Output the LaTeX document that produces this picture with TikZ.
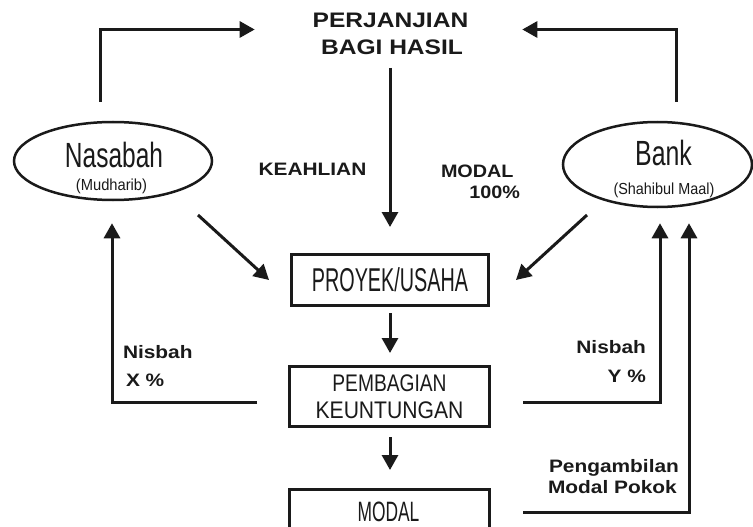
\documentclass[tikz,border=0pt]{standalone}
\usepackage{fontspec}
\setmainfont{Liberation Sans}
\usepackage{graphicx}
\usetikzlibrary{arrows.meta,shapes.geometric,calc}
\newcommand{\cnd}[3]{\fontsize{#2}{#2}\selectfont\scalebox{#1}[1]{#3}}
\newcommand{\bld}[3]{\fontsize{#2}{#2}\selectfont\bfseries\scalebox{#1}[1]{#3}}
\definecolor{ink}{HTML}{1A1A1A}
\tikzset{
  conn/.style={draw=ink, line width=3pt, -{Triangle[length=15pt,width=16pt]}},
  txt/.style={inner sep=0pt, outer sep=0pt, text=ink},
  boxnode/.style={draw=ink, line width=3pt, rectangle, inner sep=0pt, text=ink},
  ell/.style={draw=ink, ellipse, line width=2.5pt, inner sep=0pt},
}
\begin{document}
\begin{tikzpicture}[x=1pt,y=-1pt]
\clip (0,0) rectangle (753,527);
\fill[white] (0,0) rectangle (753,527);

% title
\node[txt, anchor=base] (t1) at (390.5,28) {\bld{1.17}{21}{PERJANJIAN}};
\node[txt, anchor=base] (t2) at (392,55) {\bld{1.17}{21}{BAGI HASIL}};

% ellipses
\node[ell, minimum width=198pt, minimum height=78pt] (nas) at (113,161) {};
\node[ell, minimum width=189pt, minimum height=85pt] (bank) at (657.5,164.5) {};
\node[txt, anchor=base] (nasT) at (114,167) {\cnd{0.7}{35}{Nasabah}};
\node[txt, anchor=base] (nasS) at (111.5,190.5) {\cnd{0.92}{16}{(Mudharib)}};
\node[txt, anchor=base] (bankT) at (663.5,165) {\cnd{0.71}{35}{Bank}};
\node[txt, anchor=base] (bankS) at (664,194.5) {\cnd{0.9}{16}{(Shahibul Maal)}};

% boxes
\node[boxnode, minimum width=197pt, minimum height=51pt, text height=23.6pt, text depth=0pt] (pro) at (390,280) {\cnd{0.6}{33}{PROYEK/USAHA}};
\node[boxnode, minimum width=200pt, minimum height=60pt, align=center, font=\fontsize{24}{27}\selectfont] (peb) at (389.5,396.5)
  {\scalebox{0.8}[1]{PEMBAGIAN}\\\scalebox{0.88}[1]{KEUNTUNGAN}};
\node[boxnode, minimum width=200pt, minimum height=61pt] (mod) at (389.5,520) {};
\node[txt, anchor=base] (modT) at (388.5,521) {\cnd{0.62}{28}{MODAL}};

% bold labels
\node[txt, anchor=base west] (keah) at (258.5,175) {\bld{1.16}{18}{KEAHLIAN}};
\node[txt, anchor=base west] (mod1) at (441,177) {\bld{1.1}{18}{MODAL}};
\node[txt, anchor=base east] (mod2) at (520,198) {\bld{1.1}{18}{100\%}};
\node[txt, anchor=base west] (nx1) at (123,358) {\bld{1.16}{18}{Nisbah}};
\node[txt, anchor=base west] (nx2) at (126,386) {\bld{1.16}{18}{X \%}};
\node[txt, anchor=base east] (ny1) at (646,353) {\bld{1.16}{18}{Nisbah}};
\node[txt, anchor=base east] (ny2) at (646,382) {\bld{1.16}{18}{Y \%}};
\node[txt, anchor=base west] (pm1) at (549,472) {\bld{1.16}{18}{Pengambilan}};
\node[txt, anchor=base west] (pm2) at (548,493) {\bld{1.16}{18}{Modal Pokok}};

% connectors
\draw[conn] ($(nas.center)+(-13,-59)$) |- ($(t1.base west)+(-58,1.5)$);
\draw[conn] ($(bank.center)+(18.5,-62.5)$) |- ($(t1.base east)+(54,1.5)$);
\draw[conn] ($(pro.north |- t2.base)+(0,13)$) -- ($(pro.north)+(0,-26)$);
\draw[conn] ($(nas.center)+(85,54)$) -- ($(pro.west)+(-21,0)$);
\draw[conn] ($(bank.center)+(-70.5,50.5)$) -- ($(pro.east)+(26,0)$);
\draw[conn] ($(pro.south)+(0,6)$) -- ($(pro.south |- peb.north)+(0,-12)$);
\draw[conn] ($(pro.south |- peb.south)+(0,9)$) -- ($(pro.south |- mod.north)+(0,-18)$);
\draw[conn] ($(peb.west)+(-31,5.5)$) -| ($(nas.south)+(-1,22)$);
\draw[conn] ($(peb.east)+(32,5.5)$) -| ($(bank.south)+(2.5,15)$);
\draw[conn] ($(mod.east)+(32,-8)$) -| ($(bank.south)+(31.5,15)$);
\end{tikzpicture}
\end{document}
